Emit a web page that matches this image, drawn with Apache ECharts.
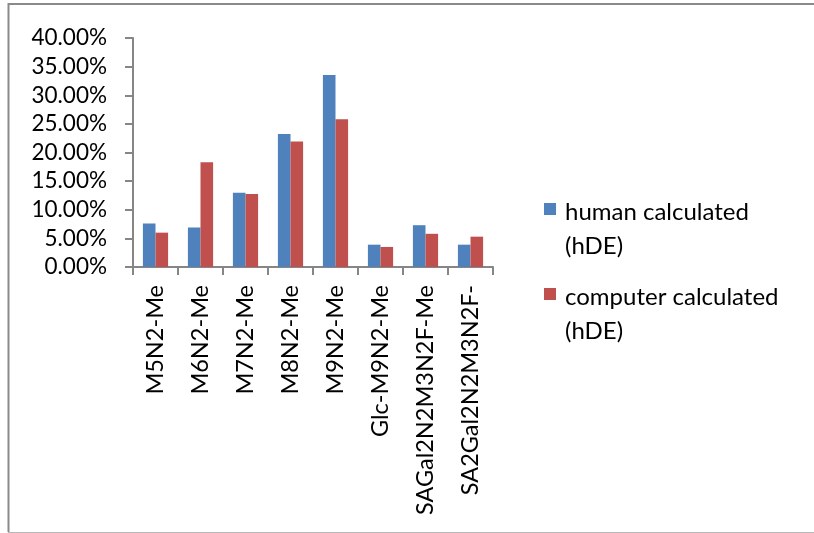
<!DOCTYPE html>
<html>
<head>
<meta charset="utf-8">
<script src="https://cdn.jsdelivr.net/npm/echarts@6/dist/echarts.min.js"></script>
<style>
  html, body { margin: 0; padding: 0; background: #fff; }
  #chart { width: 814px; height: 533px; }
</style>
</head>
<body>
<div id="chart"></div>
<script>
// Glycan structures on the category axis
const categories = [
  'M5N2-Me', 'M6N2-Me', 'M7N2-Me', 'M8N2-Me', 'M9N2-Me',
  'Glc-M9N2-Me', 'SAGal2N2M3N2F-Me', 'SA2Gal2N2M3N2F-'
];
// Share of each structure, in percent
const humanCalculated = [7.6, 6.9, 12.95, 23.25, 33.55, 3.9, 7.3, 3.9];
const computerCalculated = [6.0, 18.3, 12.75, 21.9, 25.8, 3.5, 5.8, 5.3];
const seriesNames = ['human calculated\n(hDE)', 'computer calculated\n(hDE)'];
// Value axis range and step, in percent
const yMin = 0, yMax = 40, yStep = 5;

const FONT = 'Lato';
const AXIS = '#868686';
const COLORS = ['#4F81BD', '#C0504D'];

const chart = echarts.init(document.getElementById('chart'), null, { renderer: 'canvas' });

const legendItems = [];
seriesNames.forEach((name, i) => {
  const top = 203 + i * 85;
  legendItems.push({
    type: 'rect', shape: { x: 544, y: top, width: 12, height: 12 },
    style: { fill: COLORS[i] }
  });
  legendItems.push({
    type: 'text', x: 565, y: top - 8,
    style: { text: name, font: '24px ' + FONT, fill: '#000', lineHeight: 34 }
  });
});

chart.setOption({
  animation: false,
  backgroundColor: '#fff',
  grid: { left: 133, right: 321, top: 38, bottom: 266, containLabel: false },
  xAxis: {
    type: 'category',
    data: categories,
    axisLine: { lineStyle: { color: AXIS, width: 2 } },
    axisTick: { show: true, length: 8, lineStyle: { color: AXIS, width: 2 } },
    axisLabel: {
      rotate: 90, margin: 18, color: '#000',
      fontFamily: FONT, fontSize: 23.5, interval: 0
    },
    splitLine: { show: false }
  },
  yAxis: {
    type: 'value',
    min: yMin, max: yMax, interval: yStep,
    axisLine: { show: true, lineStyle: { color: AXIS, width: 2 } },
    axisTick: { show: true, length: 8, lineStyle: { color: AXIS, width: 2 } },
    axisLabel: {
      margin: 26, color: '#000', fontFamily: FONT, fontSize: 22.5,
      formatter: v => v.toFixed(2) + '%'
    },
    splitLine: { show: false }
  },
  series: [
    {
      name: seriesNames[0], type: 'bar', data: humanCalculated,
      barGap: '0%', barCategoryGap: '44%',
      itemStyle: { color: COLORS[0] }
    },
    {
      name: seriesNames[1], type: 'bar', data: computerCalculated,
      barGap: '0%', barCategoryGap: '44%',
      itemStyle: { color: COLORS[1] }
    }
  ],
  graphic: [
    // chart-area frame
    { type: 'line', shape: { x1: 8, y1: 4, x2: 814, y2: 4 }, style: { stroke: '#8a8a8a', lineWidth: 2 } },
    { type: 'line', shape: { x1: 8.5, y1: 3, x2: 8.5, y2: 532 }, style: { stroke: '#8a8a8a', lineWidth: 2 } },
    { type: 'line', shape: { x1: 8, y1: 532.5, x2: 814, y2: 532.5 }, style: { stroke: '#b8b8b8', lineWidth: 1 } },
    ...legendItems
  ]
});
</script>
</body>
</html>
